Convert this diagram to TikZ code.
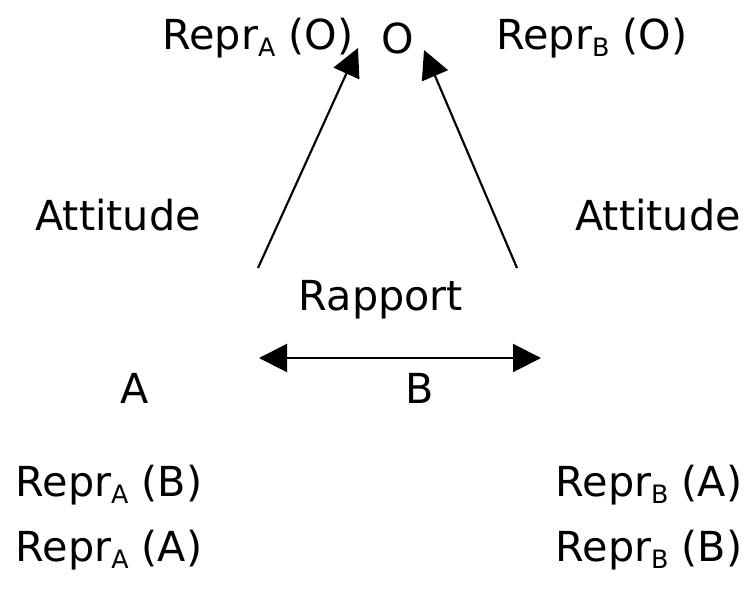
\documentclass[tikz,border=0pt]{standalone}
\usepackage{fontspec}
\setmainfont{DejaVu Sans}
\usetikzlibrary{arrows.meta}
\newcommand{\repr}[2]{Repr\raisebox{-0.3ex}{\fontsize{19}{19}\selectfont #1}\ (#2)}
\begin{document}
\begin{tikzpicture}[x=0.75pt,y=-0.75pt,
  lbl/.style={font=\fontsize{31}{35}\selectfont, inner sep=0pt},
  tip/.tip={Triangle[length=21pt,width=21pt]},
  arr/.style={line width=1.6pt, -tip}]
\useasboundingbox (0,0) rectangle (746,592);

\node[lbl] (ra) at (258,38) {\repr{A}{O}};
\node[lbl] (o) at (398,38) {O};
\node[lbl] (rb) at (592,38) {\repr{B}{O}};

\node[lbl] (atta) at (118,215) {Attitude};
\node[lbl] (attb) at (658,215) {Attitude};

\node[lbl] (rap) at (381,300) {Rapport};
\node[lbl] (a) at (135,388) {A};
\node[lbl] (b) at (420,388) {B};

\node[lbl] (rab) at (109,485) {\repr{A}{B}};
\node[lbl] (raa) at (109,550) {\repr{A}{A}};
\node[lbl] (rba) at (649,485) {\repr{B}{A}};
\node[lbl] (rbb) at (649,550) {\repr{B}{B}};

\coordinate (la) at (258,268);
\coordinate (lb) at (517,268);
\coordinate (ta) at (358,48);
\coordinate (tb) at (424,50);
\coordinate (ha) at (259,358);
\coordinate (hb) at (541,358);

\draw[arr] (la) -- (ta);
\draw[arr] (lb) -- (tb);
\draw[arr, tip-tip] (ha) -- (hb);
\end{tikzpicture}
\end{document}
